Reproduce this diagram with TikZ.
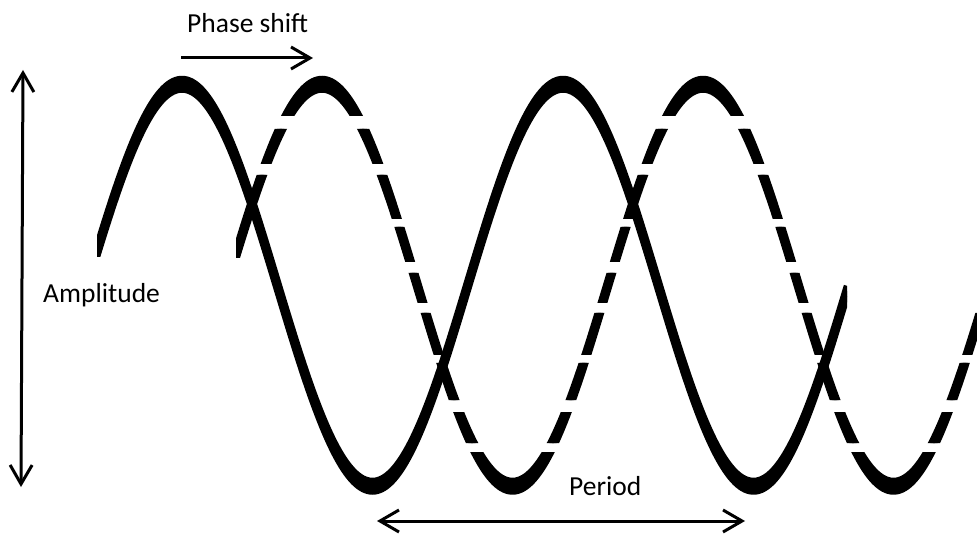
\documentclass[tikz,border=0pt]{standalone}
\usepackage{fontspec}
\setmainfont{Carlito}
\usetikzlibrary{arrows.meta}
\begin{document}
\begin{tikzpicture}[x=1pt,y=-1pt,
  wave/.style={line width=6.5pt, line cap=butt, black},
  dimline/.style={line width=3pt, black, >={Straight Barb[length=19pt,width=22pt]}},
  lbl/.style={inner sep=0pt, font=\fontsize{27.5}{33}\selectfont}]
\useasboundingbox (0,0) rectangle (977,534);
\def\Mid{280}\def\Amp{201}\def\Per{381}
% solid wave
\begin{scope}
  \clip (97,0) rectangle (140,257) (140,0) rectangle (847,534);
  \foreach \s in {0,5.25,10.5}{
    \draw[wave] plot[domain=90:847, samples=320] (\x, {\Mid+\s-\Amp*cos((\x-182)/\Per*360)});
  }
\end{scope}
% dashed wave (horizontal gaps)
\begin{scope}
  \clip (236,0) rectangle (977,116)
        (236,129) rectangle (977,164)
        (236,175) rectangle (300,258)
        (300,175) rectangle (977,219)
        (300,227) rectangle (977,262)
        (300,273) rectangle (977,303)
        (300,313) rectangle (977,355)
        (300,363) rectangle (977,400)
        (300,412) rectangle (977,443)
        (300,452) rectangle (977,534);
  \foreach \s in {0,5.25,10.5}{
    \draw[wave] plot[domain=228:980, samples=320] (\x, {\Mid+\s-\Amp*cos((\x-322)/\Per*360)});
  }
\end{scope}
% dimension arrows
\coordinate (ampTop) at (23,70);
\coordinate (ampBot) at (21,487);
\coordinate (phA) at (181,58);
\coordinate (phB) at (313,58);
\coordinate (perA) at (377,521);
\coordinate (perB) at (745,521);
\draw[dimline,<->] (ampTop) -- (ampBot);
\draw[dimline,->] (phA) -- (phB);
\draw[dimline,<->] (perA) -- (perB);
% labels
\node[lbl, anchor=base west] (phase) at (187,33) {Phase shift};
\node[lbl, anchor=base west] (amp) at (43,303) {Amplitude};
\node[lbl, anchor=base west] (per) at (569,495) {Period};
\end{tikzpicture}
\end{document}
